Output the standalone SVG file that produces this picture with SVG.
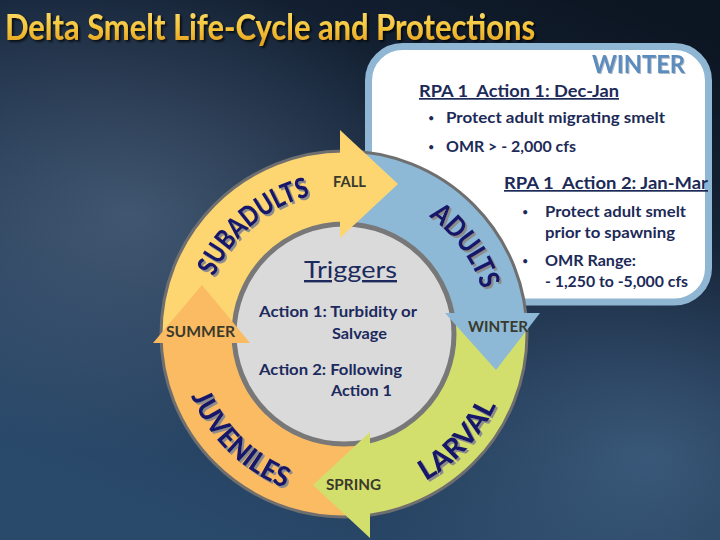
<svg xmlns="http://www.w3.org/2000/svg" width="720" height="540" viewBox="0 0 720 540">
  <defs>
    <linearGradient id="bg" x1="0.85" y1="0" x2="0.3" y2="1">
      <stop offset="0" stop-color="#0c1522"/>
      <stop offset="0.5" stop-color="#1d3049"/>
      <stop offset="1" stop-color="#2a4a6c"/>
    </linearGradient>
    <radialGradient id="cloud" cx="0.18" cy="0.4" r="0.45">
      <stop offset="0" stop-color="#6a7f98" stop-opacity="0.45"/>
      <stop offset="1" stop-color="#6a7f98" stop-opacity="0"/>
    </radialGradient>
    <radialGradient id="glow" cx="0.9" cy="0.85" r="0.4">
      <stop offset="0" stop-color="#4a6e92" stop-opacity="0.6"/>
      <stop offset="1" stop-color="#4a6e92" stop-opacity="0"/>
    </radialGradient>
    <linearGradient id="gold" x1="0" y1="0" x2="0" y2="1">
      <stop offset="0" stop-color="#fde27a"/>
      <stop offset="0.55" stop-color="#f5c53a"/>
      <stop offset="1" stop-color="#e39a1a"/>
    </linearGradient>
    <filter id="shadow" x="-10%" y="-10%" width="130%" height="130%">
      <feDropShadow dx="2" dy="2" stdDeviation="0.6" flood-color="#8c8c8c" flood-opacity="1"/>
    </filter>
    <filter id="tshadow" x="-5%" y="-20%" width="110%" height="150%">
      <feDropShadow dx="2" dy="2" stdDeviation="1" flood-color="#000" flood-opacity="0.7"/>
    </filter>
    <filter id="lshadow" x="-5%" y="-20%" width="110%" height="150%">
      <feDropShadow dx="1" dy="1" stdDeviation="0.5" flood-color="#9aa8b8" flood-opacity="0.8"/>
    </filter>
    <path id="p-sub" d="M 221.02 405 A 142 142 0 0 1 435.28 225.22"/>
    <path id="p-adu" d="M 280.43 203.67 A 145 145 0 0 1 448.3 434.73"/>
    <path id="p-juv" d="M 208.02 240.54 A 165 165 0 0 0 439.82 468.33"/>
    <path id="p-lar" d="M 252.5 474.9 A 168 168 0 0 0 478.17 232.9"/>
    <style>
      .ttl { font-family: Lato, "Open Sans", "Liberation Sans", sans-serif; font-weight: bold; font-size: 37px; fill: url(#gold); }
      .box { fill: #ffffff; stroke: #8fb6d3; stroke-width: 7; }
      .hd { font-family: Lato, "Open Sans", "Liberation Sans", sans-serif; font-weight: bold; fill: #1c2a58; font-size: 17px; text-decoration: underline; white-space: pre; }
      .bl { font-family: Lato, "Open Sans", "Liberation Sans", sans-serif; font-weight: bold; fill: #1c2a58; font-size: 15.5px; }
      .dot { font-family: Lato, "Open Sans", "Liberation Sans", sans-serif; fill: #1c2a58; font-size: 11px; }
      .win { font-family: Lato, "Open Sans", "Liberation Sans", sans-serif; font-weight: bold; fill: #5b8cbd; font-size: 24px; }
      .ctr { font-family: Lato, "Open Sans", "Liberation Sans", sans-serif; font-weight: bold; fill: #1c2a5e; font-size: 15px; }
      .trg { font-family: Lato, "Open Sans", "Liberation Sans", sans-serif; fill: #1c2a5e; font-size: 24px; text-decoration: underline; }
      .season { font-family: Lato, "Open Sans", "Liberation Sans", sans-serif; font-weight: bold; fill: #3a3a2c; font-size: 15px; }
      .stage { font-family: Lato, "Open Sans", "Liberation Sans", sans-serif; font-weight: 900; fill: #15166a; font-size: 28px; filter: url(#shadow); }
      .yel { fill: #fdd671; }
      .blu { fill: #8db9d7; }
      .grn { fill: #d3df6c; }
      .org { fill: #fbbb62; }
    </style>
  </defs>

  <rect x="0" y="0" width="720" height="540" fill="url(#bg)"/>
  <rect x="0" y="0" width="720" height="540" fill="url(#cloud)"/>
  <rect x="0" y="0" width="720" height="540" fill="url(#glow)"/>

  <g id="title">
    <text class="ttl" x="5" y="40" textLength="530" lengthAdjust="spacingAndGlyphs" filter="url(#tshadow)">Delta Smelt Life-Cycle and Protections</text>
  </g>

  <g id="winter-box">
    <rect class="box" x="368.5" y="46.5" width="340" height="255.5" rx="34"/>
    <text class="win" x="592" y="73" textLength="93" lengthAdjust="spacingAndGlyphs" filter="url(#lshadow)">WINTER</text>
    <text class="hd" x="419" y="97" textLength="200" lengthAdjust="spacingAndGlyphs" xml:space="preserve">RPA 1  Action 1: Dec-Jan</text>
    <text class="dot" x="428" y="122">•</text>
    <text class="bl" x="446" y="123" textLength="219" lengthAdjust="spacingAndGlyphs">Protect adult migrating smelt</text>
    <text class="dot" x="428" y="151">•</text>
    <text class="bl" x="446" y="152" textLength="130" lengthAdjust="spacingAndGlyphs">OMR &gt; - 2,000 cfs</text>
    <text class="hd" x="504" y="189" textLength="204" lengthAdjust="spacingAndGlyphs" xml:space="preserve">RPA 1  Action 2: Jan-Mar</text>
    <text class="dot" x="522" y="216">•</text>
    <text class="bl" x="545" y="217" textLength="141" lengthAdjust="spacingAndGlyphs">Protect adult smelt</text>
    <text class="bl" x="545" y="238" textLength="130" lengthAdjust="spacingAndGlyphs">prior to spawning</text>
    <text class="dot" x="522" y="265">•</text>
    <text class="bl" x="545" y="266" textLength="91" lengthAdjust="spacingAndGlyphs">OMR Range:</text>
    <text class="bl" x="545" y="287" textLength="143" lengthAdjust="spacingAndGlyphs">- 1,250 to -5,000 cfs</text>
  </g>

  <g id="cycle">
    <g id="subadults">
      <path class="yel" d="M 161.22 343 A 183 183 0 0 1 340 151.04 L 340 226.07 A 108 108 0 0 0 236.38 343 Z"/>
    </g>
    <g id="adults">
      <path class="blu" d="M 340 151.04 A 183 183 0 0 1 525.79 313 L 449.94 313 A 108 108 0 0 0 340 226.07 Z"/>
    </g>
    <g id="larval">
      <path class="grn" d="M 525.79 313 A 183 183 0 0 1 370 515.14 L 370 438.82 A 108 108 0 0 0 449.94 313 Z"/>
    </g>
    <g id="juveniles">
      <path class="org" d="M 370 515.14 A 183 183 0 0 1 161.22 343 L 236.38 343 A 108 108 0 0 0 370 438.82 Z"/>
    </g>
    <circle cx="344" cy="334" r="183" fill="none" stroke="#6f6f6f" stroke-width="3"/>
  </g>

  <g id="triggers">
    <circle cx="344" cy="334" r="110" fill="#dadada" stroke="#787878" stroke-width="5"/>
  </g>

  <g id="connectors">
    <polygon class="yel" points="340,130 398,184 340,238"/>
    <polygon class="blu" points="445,313 540,313 496,370"/>
    <polygon class="grn" points="370,432 370,538 313,485"/>
    <polygon class="org" points="153,343 250,343 202,285"/>
  </g>

  <g id="labels">
    <text class="stage"><textPath href="#p-sub" startOffset="50%" text-anchor="middle" textLength="130" lengthAdjust="spacingAndGlyphs">SUBADULTS</textPath></text>
    <text class="stage"><textPath href="#p-adu" startOffset="50%" text-anchor="middle" textLength="92" lengthAdjust="spacingAndGlyphs">ADULTS</textPath></text>
    <text class="stage"><textPath href="#p-juv" startOffset="50%" text-anchor="middle" textLength="135" lengthAdjust="spacingAndGlyphs">JUVENILES</textPath></text>
    <text class="stage"><textPath href="#p-lar" startOffset="50%" text-anchor="middle" textLength="105" lengthAdjust="spacingAndGlyphs">LARVAL</textPath></text>

    <text class="season" x="333" y="187" textLength="33" lengthAdjust="spacingAndGlyphs">FALL</text>
    <text class="season" x="166" y="337" textLength="69" lengthAdjust="spacingAndGlyphs">SUMMER</text>
    <text class="season" x="468" y="332" textLength="60" lengthAdjust="spacingAndGlyphs">WINTER</text>
    <text class="season" x="326" y="490" textLength="55" lengthAdjust="spacingAndGlyphs">SPRING</text>

    <text class="trg" x="304" y="278" textLength="93" lengthAdjust="spacingAndGlyphs">Triggers</text>
    <text class="ctr" x="259" y="317" textLength="158" lengthAdjust="spacingAndGlyphs">Action 1: Turbidity or</text>
    <text class="ctr" x="332" y="339" textLength="55" lengthAdjust="spacingAndGlyphs">Salvage</text>
    <text class="ctr" x="259" y="375" textLength="143" lengthAdjust="spacingAndGlyphs">Action 2: Following</text>
    <text class="ctr" x="331" y="396" textLength="61" lengthAdjust="spacingAndGlyphs">Action 1</text>
  </g>
</svg>
